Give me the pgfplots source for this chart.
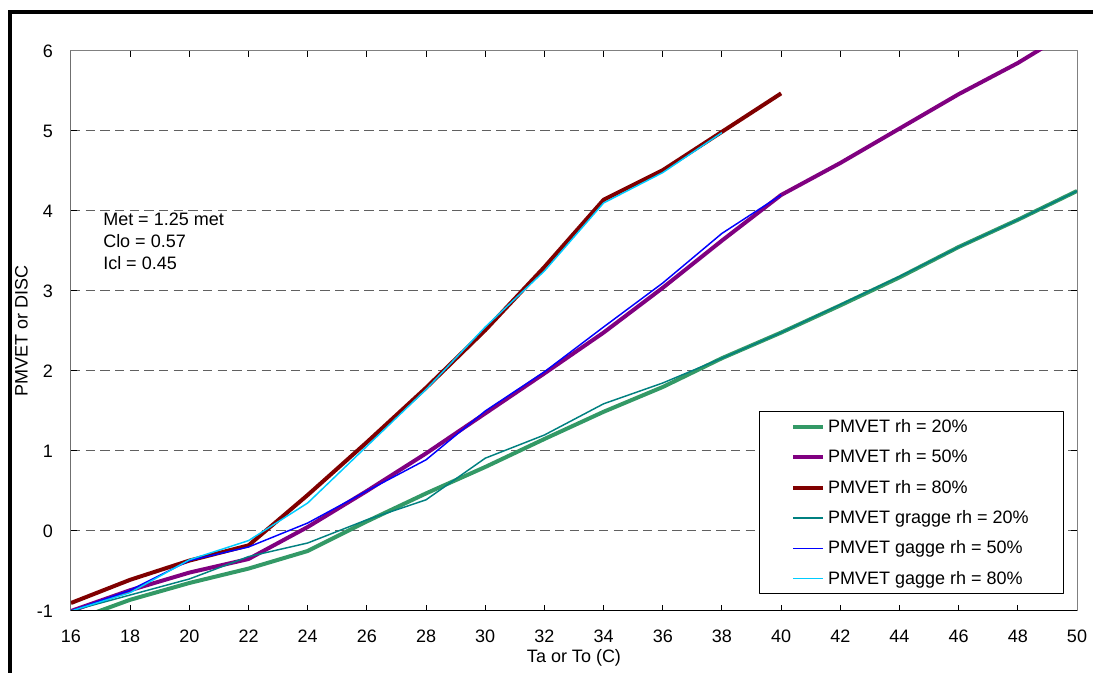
\documentclass[border=0pt]{standalone}
\usepackage{fontspec}
\setmainfont{Liberation Sans}
\usepackage{pgfplots}
\pgfplotsset{compat=1.18}
\definecolor{cGreen}{HTML}{339966}
\definecolor{cPurple}{HTML}{800080}
\definecolor{cRed}{HTML}{800000}
\definecolor{cTeal}{HTML}{008080}
\definecolor{cBlue}{HTML}{0000FF}
\definecolor{cCyan}{HTML}{00CCFF}
\definecolor{gridgray}{HTML}{606060}
\begin{document}
\begin{tikzpicture}
\useasboundingbox (0,0) rectangle (819.75pt,504.75pt);
\begin{scope}
\clip (0,0) rectangle (819.75pt,504.75pt);
\draw[line width=3pt] (7.6pt,-20pt) -- (7.6pt,495.5pt) -- (840pt,495.5pt);
\end{scope}
\begin{axis}[
  at={(53.25pt,46.5pt)}, anchor=south west,
  scale only axis, width=754.5pt, height=420pt,
  xmin=16, xmax=50, ymin=-1, ymax=6,
  xtick={16,18,...,50}, ytick={-1,0,...,6},
  tick align=inside, major tick length=4.5pt,
  tick style={black, line width=0.75pt},
  axis line style={draw=gray, line width=0.75pt},
  ymajorgrids, grid style={gridgray, line width=0.75pt, dash pattern=on 7pt off 4pt},
  /pgf/number format/assume math mode=true,
  ticklabel style={font=\fontsize{13.5}{16}\selectfont},
  xticklabel style={yshift=-11pt},
  yticklabel style={xshift=-10pt},
  xlabel={Ta or To (C)}, ylabel={PMVET or DISC},
  label style={font=\fontsize{13.5}{16}\selectfont},
  xlabel style={yshift=2pt},
  ylabel style={yshift=0pt},
  legend cell align=left,
  legend style={at={(0.987,0.357)}, anchor=north east, draw=black, line width=0.75pt,
    font=\fontsize{13.5}{16}\selectfont, inner xsep=24pt, inner ysep=3.75pt, row sep=7.5pt},
  legend image code/.code={\draw[#1] (0pt,0pt) -- (22.5pt,0pt);},
  line join=round,
]
\addplot[cGreen, line width=3pt] coordinates {(16,-1.13) (18,-0.86) (20,-0.65) (22,-0.47) (24,-0.25) (26,0.12) (28,0.47) (30,0.80) (32,1.15) (34,1.49) (36,1.80) (38,2.16) (40,2.48) (42,2.82) (44,3.17) (46,3.55) (48,3.89) (50,4.25)};
\addlegendentry{PMVET rh = 20\%}
\addplot[cPurple, line width=3pt] coordinates {(16,-1.0) (18,-0.74) (20,-0.52) (22,-0.35) (24,0.05) (26,0.5) (28,0.97) (30,1.47) (32,1.97) (34,2.48) (36,3.04) (38,3.63) (40,4.2) (42,4.6) (44,5.03) (46,5.46) (48,5.85) (50,6.3)};
\addlegendentry{PMVET rh = 50\%}
\addplot[cRed, line width=3pt] coordinates {(16,-0.9) (18,-0.61) (20,-0.37) (22,-0.18) (24,0.45) (26,1.11) (28,1.79) (30,2.51) (32,3.3) (34,4.14) (36,4.51) (38,4.99) (40,5.47)};
\addlegendentry{PMVET rh = 80\%}
\addplot[cTeal, line width=1.1pt] coordinates {(16,-1.0) (18,-0.8) (20,-0.6) (22,-0.32) (24,-0.15) (26,0.14) (28,0.39) (30,0.91) (32,1.2) (34,1.59) (36,1.85) (38,2.16) (40,2.48) (42,2.83) (44,3.18) (46,3.55) (48,3.89) (50,4.25)};
\addlegendentry{PMVET gragge rh = 20\%}
\addplot[cBlue, line width=1.1pt] coordinates {(16,-1.0) (18,-0.74) (20,-0.37) (22,-0.2) (24,0.1) (26,0.5) (28,0.89) (30,1.5) (32,1.99) (34,2.55) (36,3.1) (38,3.72) (40,4.2)};
\addlegendentry{PMVET gagge rh = 50\%}
\addplot[cCyan, line width=1.1pt] coordinates {(16,-1.0) (18,-0.77) (20,-0.36) (22,-0.12) (24,0.35) (26,1.06) (28,1.77) (30,2.55) (32,3.25) (34,4.1) (36,4.48) (38,4.98)};
\addlegendentry{PMVET gagge rh = 80\%}
\draw[black, line width=0.75pt] (rel axis cs:0,1) -- (rel axis cs:0,0) -- (rel axis cs:1,0);
\node[anchor=north west, align=left, inner sep=0pt, font=\fontsize{13.5}{16.5}\selectfont] at (rel axis cs:0.0318,0.7107) {Met = 1.25 met\\Clo = 0.57\\Icl = 0.45};
\end{axis}
\end{tikzpicture}
\end{document}
